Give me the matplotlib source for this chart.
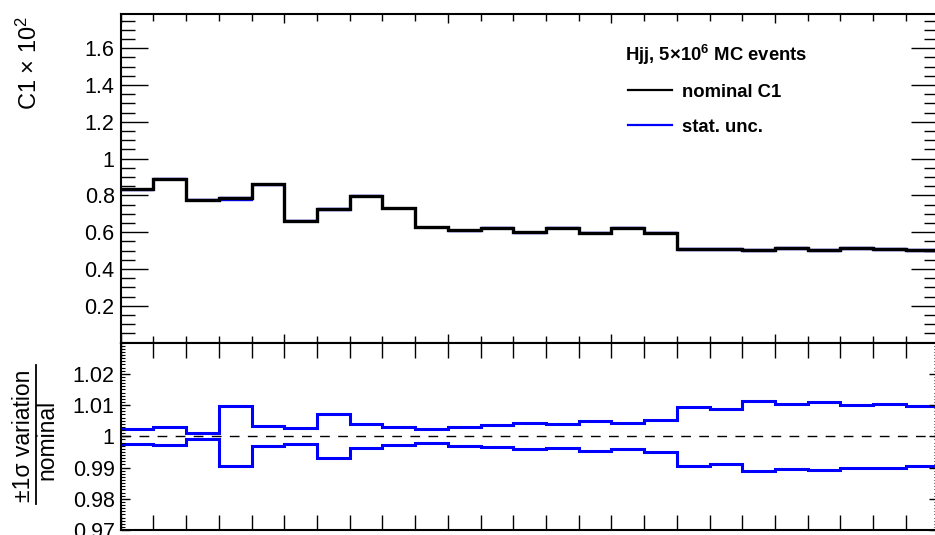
import numpy as np
import matplotlib
matplotlib.use("Agg")
import matplotlib.pyplot as plt
from matplotlib.ticker import MultipleLocator, FixedLocator, FuncFormatter, NullFormatter
from matplotlib.lines import Line2D

# ---------------- data ----------------
nominal = [0.833, 0.890, 0.777, 0.785, 0.860, 0.663, 0.724, 0.798, 0.731, 0.627,
           0.610, 0.625, 0.600, 0.625, 0.598, 0.625, 0.598, 0.507, 0.507, 0.504,
           0.513, 0.505, 0.513, 0.507, 0.505]
ratio_up = [1.00235, 1.0029, 1.0012, 1.0098, 1.0032, 1.0026, 1.0071, 1.0038, 1.0029, 1.0023,
            1.0030, 1.0035, 1.0044, 1.0039, 1.0049, 1.0042, 1.0052, 1.0095, 1.0089, 1.0112,
            1.0105, 1.0109, 1.0101, 1.0102, 1.0098]
ratio_down = [0.99765, 0.99723, 0.99915, 0.99045, 0.9968, 0.99765, 0.99307, 0.99627, 0.99723, 0.99776,
              0.99702, 0.99658, 0.99584, 0.99627, 0.99531, 0.99605, 0.99499, 0.99062, 0.99115, 0.98891,
              0.98944, 0.98923, 0.98997, 0.98997, 0.99045]
top_yticks = [0.2, 0.4, 0.6, 0.8, 1.0, 1.2, 1.4, 1.6]
ratio_yticks = [0.97, 0.98, 0.99, 1.00, 1.01, 1.02]
legend_title = "Hjj, 5×10$^{\\mathbf{6}}$ MC events"
legend_labels = ["nominal C1", "stat. unc."]

nominal = np.array(nominal)
ratio_up = np.array(ratio_up)
ratio_down = np.array(ratio_down)
edges = np.arange(len(nominal) + 1)

# ---------------- style ----------------
plt.rcParams["font.family"] = ["Liberation Sans", "DejaVu Sans"]
plt.rcParams["mathtext.fontset"] = "custom"
plt.rcParams["mathtext.rm"] = "Liberation Sans"
plt.rcParams["mathtext.bf"] = "Liberation Sans:bold"
plt.rcParams["mathtext.default"] = "regular"

W, H = 935, 535
fig = plt.figure(figsize=(W / 100, H / 100), dpi=100)

def fx(px):
    return px / W

def fy(py):
    return 1 - py / H

L, R = 120.7, 938.5
T1, B1 = 14.0, 342.6
T2, B2 = 342.6, 530.0
ax1 = fig.add_axes([fx(L), fy(B1), fx(R) - fx(L), (B1 - T1) / H])
ax2 = fig.add_axes([fx(L), fy(B2), fx(R) - fx(L), (B2 - T2) / H])

blue = "#0000ff"

# ---------------- top panel ----------------
ax1.stairs(nominal * ratio_up, edges, baseline=None, color=blue, lw=1.0)
ax1.stairs(nominal * ratio_down, edges, baseline=None, color=blue, lw=1.0)
ax1.stairs(nominal, edges, baseline=None, color="black", lw=2.4)
ax1.set_xlim(0, len(nominal))
ax1.set_ylim(0, 1.786)

ax1.xaxis.set_major_locator(MultipleLocator(5))
ax1.xaxis.set_minor_locator(MultipleLocator(1))
ax1.xaxis.set_major_formatter(NullFormatter())
ax1.yaxis.set_major_locator(FixedLocator(top_yticks))
ax1.yaxis.set_minor_locator(MultipleLocator(0.05))
ax1.yaxis.set_major_formatter(FuncFormatter(lambda v, p: f"{round(v, 3):g}"))
ax1.tick_params(axis="x", which="major", direction="in", top=True, bottom=True,
                length=6.5, width=1.0)
ax1.tick_params(axis="x", which="minor", direction="in", top=True, bottom=True,
                length=4.7, width=1.0)
ax1.tick_params(axis="y", which="major", direction="in", left=True, right=True,
                length=19.4, width=1.0, labelsize=15.5, pad=4.3)
ax1.tick_params(axis="y", which="minor", direction="in", left=True, right=True,
                length=10, width=1.0)
for s in ax1.spines.values():
    s.set_linewidth(1.5)

# y label
fig.text(fx(29), fy(63), "C1 × 10$^{2}$", rotation=90, ha="center", va="center",
         fontsize=17)

# legend
fig.text(fx(625), fy(61), legend_title, fontsize=13.3, fontweight="bold",
         ha="left", va="baseline")
for i, (lab, col) in enumerate(zip(legend_labels, ["black", blue])):
    yline = [90, 125][i]
    ybase = [96.7, 131.7][i]
    fig.add_artist(Line2D([fx(628.3), fx(671.7)], [fy(yline), fy(yline)],
                          color=col, lw=1.6, transform=fig.transFigure))
    fig.text(fx(681.7), fy(ybase), lab, fontsize=13.3, fontweight="bold",
             ha="left", va="baseline")

# ---------------- ratio panel ----------------
ax2.stairs(ratio_up, edges, baseline=None, color=blue, lw=2.2)
ax2.stairs(ratio_down, edges, baseline=None, color=blue, lw=2.2)
ax2.axhline(1.0, color="black", lw=1.0, ls=(0, (7, 6)))
ax2.set_xlim(0, len(nominal))
ax2.set_ylim(0.97, 1.03)

ax2.xaxis.set_major_locator(MultipleLocator(5))
ax2.xaxis.set_minor_locator(MultipleLocator(1))
ax2.xaxis.set_major_formatter(NullFormatter())
ax2.yaxis.set_major_locator(FixedLocator(ratio_yticks))
ax2.yaxis.set_minor_locator(MultipleLocator(0.001))
ax2.yaxis.set_major_formatter(FuncFormatter(lambda v, p: f"{round(v, 4):g}"))
ax2.tick_params(axis="x", which="both", direction="in", top=True, bottom=True,
                length=11, width=1.0)
ax2.tick_params(axis="y", which="major", direction="in", left=True, right=True,
                length=6.5, width=1.0, labelsize=15.5, pad=4.3)
ax2.tick_params(axis="y", which="minor", direction="in", left=True, right=True,
                length=3.2, width=0.8)
for s in ax2.spines.values():
    s.set_linewidth(1.5)

# ratio y label (fraction)
fig.text(fx(24), fy(436), "±1σ variation", rotation=90, ha="center", va="center",
         fontsize=16.5)
fig.text(fx(47), fy(440), "nominal", rotation=90, ha="center", va="center",
         fontsize=16.5)
fig.add_artist(Line2D([fx(35.5), fx(35.5)], [fy(365), fy(504)], color="black",
                      lw=1.3, transform=fig.transFigure))

fig.savefig("out.png", dpi=100)
